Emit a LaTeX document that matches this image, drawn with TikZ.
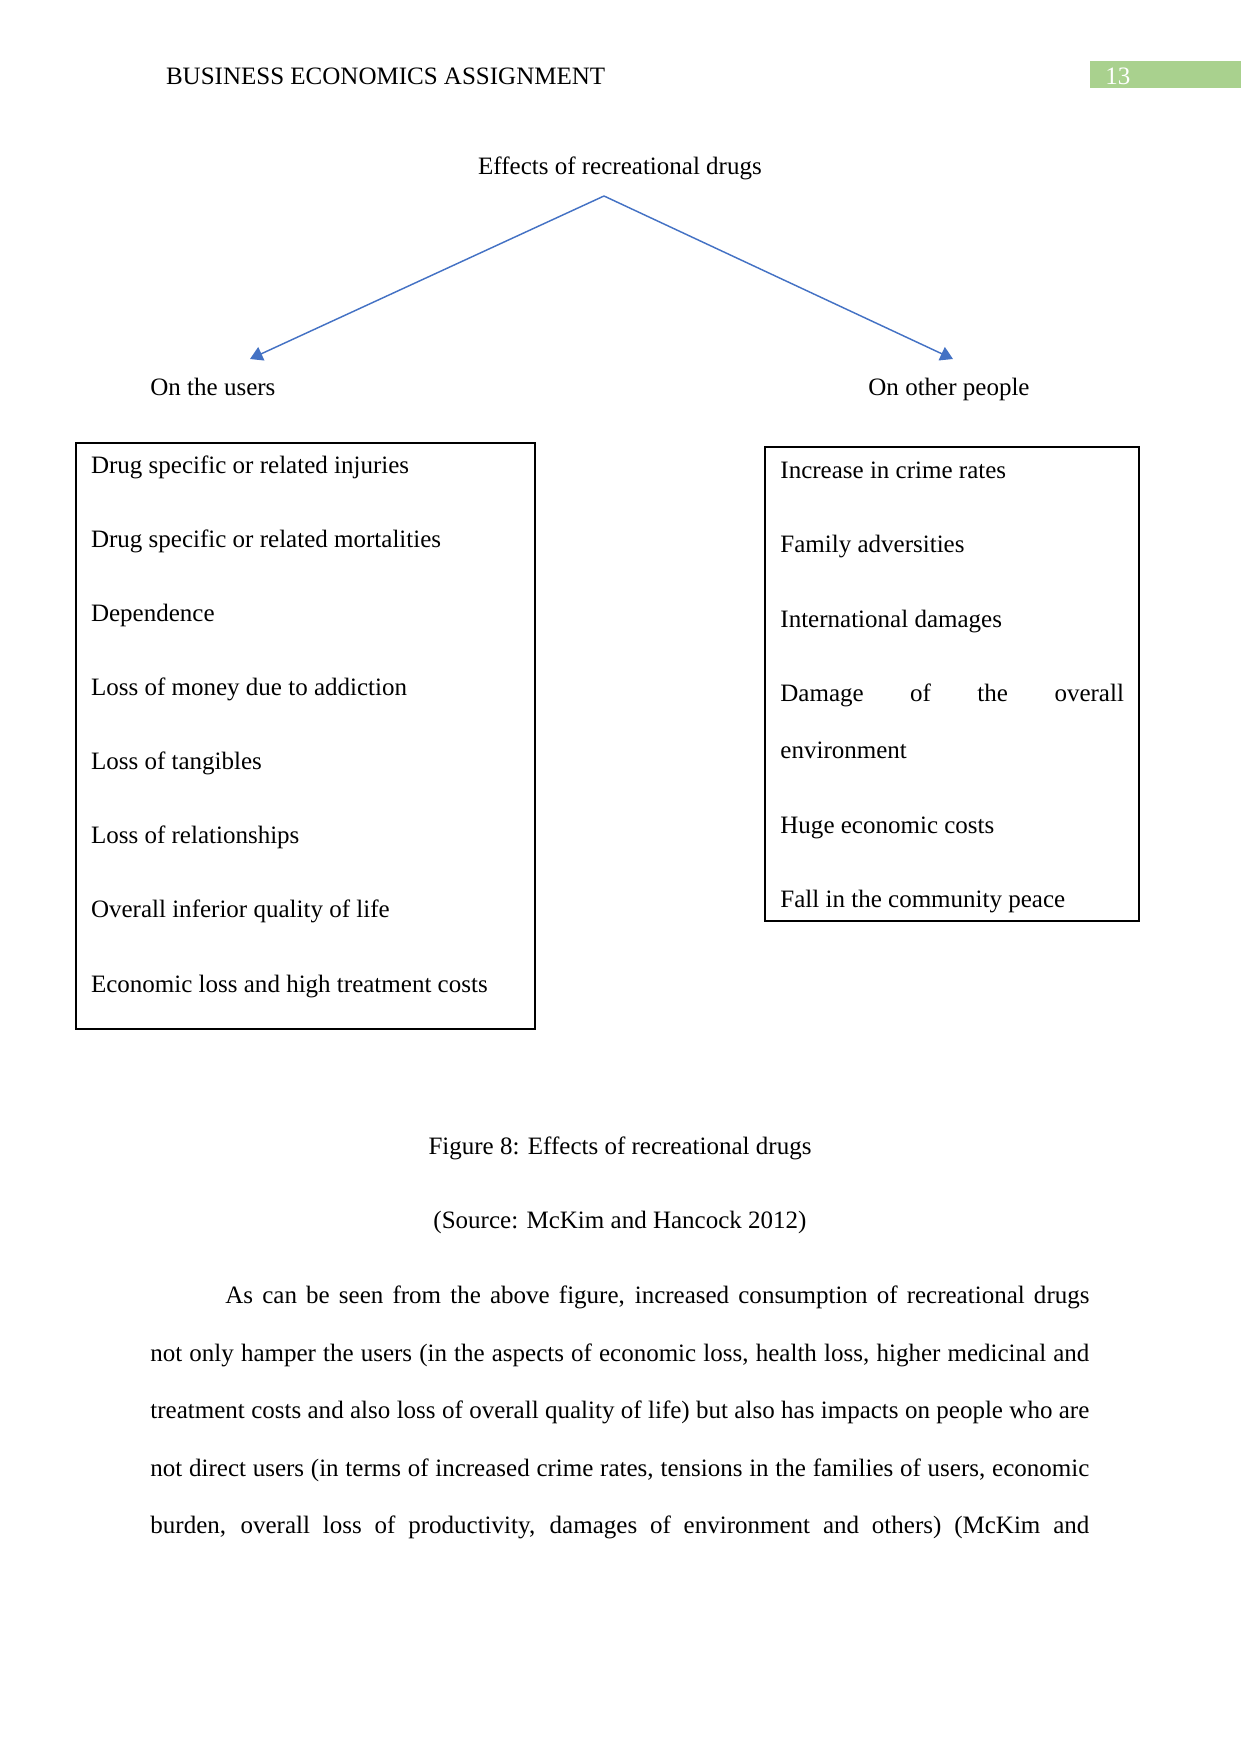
\documentclass[tikz,border=0pt]{standalone}
\usepackage{fontspec}
\setmainfont{Liberation Serif}
\usetikzlibrary{arrows.meta}
\definecolor{arrowblue}{HTML}{4472C4}
\definecolor{headgreen}{HTML}{A9D18E}
\begin{document}
\begin{tikzpicture}[x=0.4797pt,y=-0.4797pt,
  font=\fontsize{12}{14}\selectfont,
  txt/.style={anchor=base west, inner sep=0pt},
  ctr/.style={anchor=base, inner sep=0pt},
  listbox/.style={draw=black, line width=0.8pt, anchor=north west, inner sep=0pt},
  conn/.style={draw=arrowblue, line width=0.7pt, -{Triangle[length=6pt,width=7pt]}}]
\useasboundingbox (0,0) rectangle (1241,1754);
% header
\fill[headgreen] (1090,61.5) rectangle (1241,88.5);
\node[txt] (hdr) at (165.6,84.2) {BUSINESS ECONOMICS ASSIGNMENT};
\node[txt, text=white] (pg) at (1105,84.2) {13};
% title and arrows
\node[ctr] (title) at (620,174.2) {Effects of recreational drugs};
\coordinate (apex) at (604,196);
\coordinate (tipL) at (250,359);
\coordinate (tipR) at (953,359);
\draw[conn] (apex) -- (tipL);
\draw[conn] (apex) -- (tipR);
\node[txt] (users) at (150,395.2) {On the users};
\node[txt] (others) at (868,395.2) {On other people};
% left box
\node[listbox, minimum width=220.2pt, minimum height=281.1pt] (ubox) at (75,442) {};
\node[txt] (u1) at (90.6,473.7) {Drug specific or related injuries};
\node[txt] (u2) at (90.6,547.6) {Drug specific or related mortalities};
\node[txt] (u3) at (90.6,621.4) {Dependence};
\node[txt] (u4) at (90.6,695.3) {Loss of money due to addiction};
\node[txt] (u5) at (90.6,769.1) {Loss of tangibles};
\node[txt] (u6) at (90.6,843) {Loss of relationships};
\node[txt] (u7) at (90.6,917.9) {Overall inferior quality of life};
\node[txt] (u8) at (90.6,992.9) {Economic loss and high treatment costs};
% right box
\node[listbox, minimum width=179.6pt, minimum height=227.4pt] (obox) at (764,446) {};
\node[txt] (o1) at (780,478.2) {Increase in crime rates};
\node[txt] (o2) at (780,552.2) {Family adversities};
\node[txt] (o3) at (780,627.2) {International damages};
\node[txt] (o4) at (780,701.2) {\makebox[164.8pt][s]{Damage of the overall}};
\node[txt] (o4b) at (780,758.2) {environment};
\node[txt] (o5) at (780,833.2) {Huge economic costs};
\node[txt] (o6) at (780,907.2) {Fall in the community peace};
% caption
\node[ctr] (cap) at (620,1154.2) {Figure 8: Effects of recreational drugs};
\node[ctr] (src) at (620,1228.2) {(Source: McKim and Hancock 2012)};
% paragraph
\node[txt] (p1) at (225,1303.2) {\makebox[414.5pt][s]{As can be seen from the above figure, increased consumption of recreational drugs}};
\node[txt] (p2) at (150,1361.2) {\makebox[450.4pt][s]{not only hamper the users (in the aspects of economic loss, health loss, higher medicinal and}};
\node[txt] (p3) at (150,1418.2) {\makebox[450.4pt][s]{treatment costs and also loss of overall quality of life) but also has impacts on people who are}};
\node[txt] (p4) at (150,1476.2) {\makebox[450.4pt][s]{not direct users (in terms of increased crime rates, tensions in the families of users, economic}};
\node[txt] (p5) at (150,1533.2) {\makebox[450.4pt][s]{burden, overall loss of productivity, damages of environment and others) (McKim and}};
\end{tikzpicture}
\end{document}
